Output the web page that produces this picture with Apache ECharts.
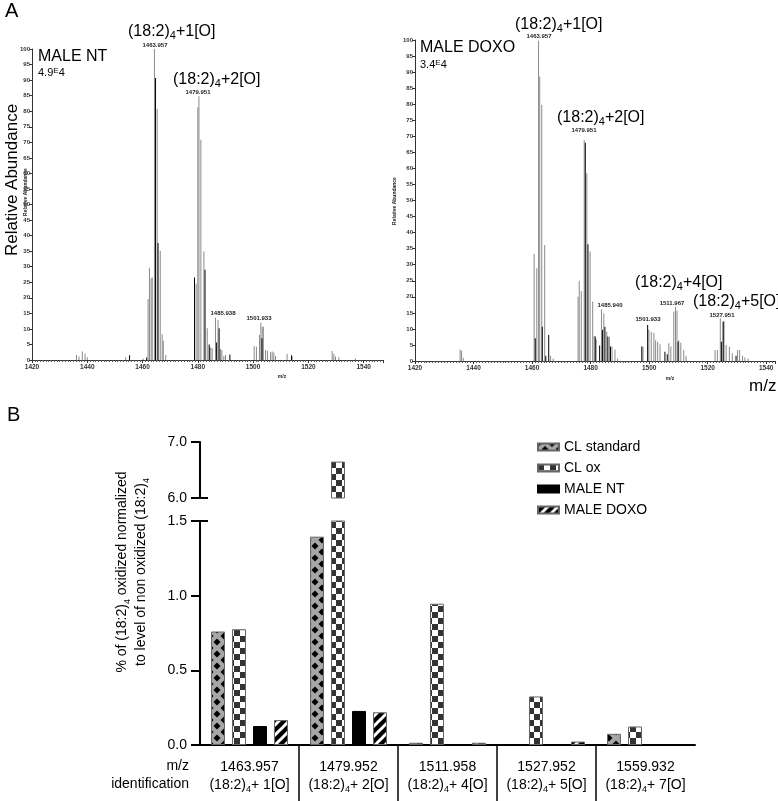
<!DOCTYPE html>
<html><head><meta charset="utf-8">
<script src="https://cdn.jsdelivr.net/npm/echarts@6/dist/echarts.min.js"></script>
<style>html,body{margin:0;padding:0;background:#fff}#c{width:778px;height:801px}</style>
</head><body><div id="c"></div><script>
// ---------- Panel A data: [m/z, relative abundance] ----------
const ntGray = [[1436.3,1.6],[1437.2,1.1],[1438.4,2.7],[1439.4,2.1],[1440.2,0.9],[1454.1,0.9],[1460.4,0.5],
 [1462.2,19.6],[1462.7,29.7],[1463.3,26.3],[1463.7,26.5],[1464.5,100],[1465.5,80.7],[1466.6,35.1],[1467.3,8.3],[1467.7,6.2],[1468.6,1.6],
 [1479.6,24.5],[1480.2,81.3],[1480.6,84.8],[1481.3,70.8],[1482.4,34.9],[1483.6,10.2],[1484.5,4.3],[1484.9,4.0],[1485.4,3.8],
 [1486.6,13.6],[1487.5,12.9],[1488.4,3.5],[1488.9,3.2],[1489.6,1.3],[1490.2,1.6],
 [1500.6,4.5],[1501.4,4.3],[1502.5,8.0],[1503.0,12.0],[1503.5,10.7],[1503.9,10.7],[1504.7,3.2],[1505.4,3.0],[1506.5,2.5],[1507.1,2.7],[1507.7,2.4],[1508.3,1.3],
 [1512.5,1.9],[1514.3,1.1],[1528.8,2.9],[1529.4,1.9],[1530.0,1.1],[1531.2,0.8],[1537.2,0.5]];
const ntBlack = [[1455.1,1.5],[1461.3,0.8],[1464.5,90.7],[1465.4,37.6],[1478.6,26.5],[1482.4,29.0],[1483.9,5.0],
 [1486.6,5.6],[1487.5,10.2],[1491.4,1.8],[1503.0,7.0],[1513.7,1.5]];
const doxoGray = [[1435.6,3.6],[1436.1,3.2],[1436.7,1.0],[1460.9,33.3],[1461.8,28.9],[1462.4,99.8],[1462.8,88.6],[1463.5,79.8],[1464.5,36.1],
 [1466.5,1.6],[1467.4,0.8],[1475.9,20],[1476.3,25],[1477.0,21.8],[1478.0,68.8],[1478.9,58.5],[1480.0,34.1],[1480.9,18.5],[1481.4,7.8],[1482.1,6.7],
 [1483.9,16.1],[1484.7,14.8],[1485.7,9.1],[1486.6,7.5],[1487.5,4.5],[1488.5,3.6],[1489.4,0.8],
 [1498.1,4.5],[1500.1,9.7],[1500.9,9.1],[1501.8,8.8],[1502.4,6.5],[1503.1,6.0],[1503.9,5.2],[1506.9,5.5],[1507.6,4.5],
 [1508.6,15.4],[1509.2,16.9],[1509.7,15.7],[1510.3,6.5],[1511.0,5.7],[1512.0,3.4],[1512.8,1.6],
 [1522.7,3.4],[1523.5,3.4],[1524.5,13.3],[1525.3,12.3],[1526.5,5.0],[1527.6,4.5],[1528.6,2.4],[1530.4,3.4],[1531.1,3.4],[1532.1,1.6],[1532.9,1.1],[1534.0,0.8]];
const doxoBlack = [[1460.9,7.1],[1463.3,10.7],[1464.5,1.6],[1465.5,8.1],[1478.0,68],[1478.9,36.4],[1481.4,7.6],[1482.9,4.8],
 [1483.9,9.7],[1484.7,10.7],[1485.7,7.6],[1486.6,4.5],[1497.3,4.5],[1499.3,11.2],[1505.2,2.9],[1506.0,2.1],[1509.7,6.0],
 [1524.5,6.0],[1525.3,12.3],[1529.5,1.6]];

// ---------- Panel B data ----------
const categories = ['1463.957','1479.952','1511.958','1527.952','1559.932'];
const identifications = ['1[O]','2[O]','4[O]','5[O]','7[O]'];
const seriesNames = ['CL standard','CL ox','MALE NT','MALE DOXO'];
const clStandard = [0.76, 1.395, 0.015, null, 0.075];
const clOx = [0.775, 6.65, 0.946, 0.325, 0.124];
const maleNT = [0.127, 0.228, null, null, null];
const maleDoxo = [0.167, 0.219, 0.015, 0.023, null];
const yTicksLow = [0, 0.5, 1.0, 1.5];
const yTicksHigh = [6.0, 7.0];

const FONT = 'Liberation Sans, Arial, sans-serif';

function pat(w, h, draw) {
  const c = document.createElement('canvas'); c.width = w; c.height = h;
  const g = c.getContext('2d'); draw(g); return { image: c, repeat: 'repeat' };
}
function diamond(g, cx, cy, a, b) {
  g.beginPath(); g.moveTo(cx - a, cy); g.lineTo(cx, cy - b); g.lineTo(cx + a, cy); g.lineTo(cx, cy + b); g.closePath(); g.fill();
}
const patStd = pat(14, 12, g => {
  g.fillStyle = '#a6a6a6'; g.fillRect(0, 0, 14, 12); g.fillStyle = '#000';
  [[0,0],[14,0],[0,12],[14,12],[7,6]].forEach(p => diamond(g, p[0], p[1], 3.5, 3.5));
});
const patOx = pat(12, 12, g => {
  g.fillStyle = '#fff'; g.fillRect(0, 0, 12, 12); g.fillStyle = '#333';
  g.fillRect(0, 0, 6, 6); g.fillRect(6, 6, 6, 6);
});
const patDoxo = pat(10, 10, g => {
  g.fillStyle = '#000'; g.fillRect(0, 0, 10, 10); g.strokeStyle = '#fff'; g.lineWidth = 3;
  [[-5,5,5,-5],[0,10,10,0],[5,15,15,5]].forEach(l => { g.beginPath(); g.moveTo(l[0], l[1]); g.lineTo(l[2], l[3]); g.stroke(); });
});
const fills = [patStd, patOx, '#000', patDoxo];
const seriesData = [clStandard, clOx, maleNT, maleDoxo];

const chart = echarts.init(document.getElementById('c'), null, { renderer: 'canvas' });

function specX(gi, max) {
  return { type: 'value', gridIndex: gi, min: 1420, max: max, interval: 20,
    axisLine: { lineStyle: { color: '#333', width: 1 } },
    axisTick: { show: true, length: 3, lineStyle: { color: '#333' } },
    minorTick: { show: true, splitNumber: 20, length: 2, lineStyle: { color: '#555' } },
    axisLabel: { fontSize: 6.5, fontWeight: 'bold', color: '#333', margin: 4, fontFamily: FONT,
      formatter: v => (v <= 1540 ? String(v) : '') },
    splitLine: { show: false } };
}
function specY(gi) {
  return { type: 'value', gridIndex: gi, min: 0, max: 100, interval: 5,
    axisLine: { show: true, lineStyle: { color: '#333', width: 1 } },
    axisTick: { show: true, length: 3, lineStyle: { color: '#333' } },
    axisLabel: { fontSize: 6, fontWeight: 'bold', color: '#333', margin: 2, fontFamily: FONT },
    splitLine: { show: false } };
}
function stick(name, gi, data, color) {
  return { type: 'bar', name: name, xAxisIndex: gi, yAxisIndex: gi, data: data, barWidth: 1,
    itemStyle: { color: color }, silent: true, animation: false, z: color === '#000' ? 3 : 2 };
}

const xAxes = [specX(0, 1547), specX(1, 1543)];
const yAxes = [specY(0), specY(1)];
xAxes.push({ type: 'category', gridIndex: 2, data: categories,
  axisLine: { lineStyle: { color: '#000', width: 2 } }, axisTick: { show: false },
  axisLabel: { interval: 0, margin: 13, color: '#000', fontFamily: FONT,
    formatter: (v, i) => `{n|${v}}\n{a|(18:2)}{s|4}{a|+ ${identifications[i]}}`,
    rich: { n: { fontSize: 14, lineHeight: 18, fontFamily: FONT, color: '#000' },
            a: { fontSize: 14, lineHeight: 18, fontFamily: FONT, color: '#000' },
            s: { fontSize: 9, verticalAlign: 'bottom', fontFamily: FONT, color: '#000' } } } });
yAxes.push({ type: 'value', gridIndex: 2, min: 0, max: 1.5, interval: 0.5,
  axisLine: { show: true, lineStyle: { color: '#000', width: 2 } },
  axisTick: { show: true, length: 9, lineStyle: { color: '#000', width: 2 } },
  axisLabel: { fontSize: 14, color: '#000', margin: 13, fontFamily: FONT, formatter: v => v.toFixed(1),
    customValues: yTicksLow },
  splitLine: { show: false } });
xAxes.push({ type: 'category', gridIndex: 3, data: categories, show: false });
yAxes.push({ type: 'value', gridIndex: 3, min: 6, max: 7, interval: 1,
  axisLine: { show: true, lineStyle: { color: '#000', width: 2 } },
  axisTick: { show: true, length: 9, lineStyle: { color: '#000', width: 2 } },
  axisLabel: { fontSize: 14, color: '#000', margin: 13, fontFamily: FONT, formatter: v => v.toFixed(1),
    customValues: yTicksHigh },
  splitLine: { show: false } });
xAxes.push({ type: 'category', gridIndex: 4, data: categories, axisLine: { show: false }, axisTick: { show: false },
  axisLabel: { show: false },
  splitLine: { show: true, showMinLine: false, showMaxLine: false, lineStyle: { color: '#000', width: 1.5 } } });
yAxes.push({ type: 'value', gridIndex: 4, show: false, min: 0, max: 1 });
yAxes.push({ type: 'value', gridIndex: 3, min: 6, max: 7, position: 'left',
  axisLine: { show: false }, axisLabel: { show: false }, splitLine: { show: false },
  axisTick: { show: true, inside: true, length: 8, customValues: [6], lineStyle: { color: '#000', width: 2 } } });
yAxes.push({ type: 'value', gridIndex: 2, min: 0, max: 1.5, position: 'left',
  axisLine: { show: false }, axisLabel: { show: false }, splitLine: { show: false },
  axisTick: { show: true, inside: true, length: 8, customValues: [1.5], lineStyle: { color: '#000', width: 2 } } });

const series = [
  stick('ntGray', 0, ntGray, '#8a8a8a'), stick('ntBlack', 0, ntBlack, '#000'),
  stick('doxoGray', 1, doxoGray, '#8a8a8a'), stick('doxoBlack', 1, doxoBlack, '#000')
];
seriesNames.forEach((nm, k) => {
  const style = { color: fills[k], borderColor: k === 2 ? '#000' : '#666', borderWidth: 1 };
  series.push({ type: 'bar', name: nm, xAxisIndex: 2, yAxisIndex: 2, data: seriesData[k],
    barWidth: 14, barGap: '50%', itemStyle: style, clip: true, animation: false });
  series.push({ type: 'bar', name: nm, xAxisIndex: 3, yAxisIndex: 3,
    data: seriesData[k].map(v => (v !== null && v > 6 ? v : null)),
    barWidth: 14, barGap: '50%', itemStyle: style, clip: true, animation: false });
});

const sub = { a: { fontSize: 16, lineHeight: 18, fontFamily: FONT, fill: '#000' },
              s: { fontSize: 11, verticalAlign: 'bottom', fontFamily: FONT, fill: '#000' } };
function ann(x, y, n) {
  return { type: 'text', x: x, y: y, style: { text: `{a|(18:2)}{s|4}{a|+${n}[O]}`, rich: sub, verticalAlign: 'middle', font: `16px ${FONT}` } };
}
function tiny(cx, y, t, fs) {
  return { type: 'text', x: cx, y: y, style: { text: t, font: `bold ${fs || 6}px ${FONT}`, fill: '#222', align: 'center', verticalAlign: 'middle' } };
}
function txt(x, y, t, fs, align, extra) {
  return Object.assign({ type: 'text', x: x, y: y, style: { text: t, font: `${fs}px ${FONT}`, fill: '#000', align: align || 'left', verticalAlign: 'middle' } }, extra || {});
}
function expo(x, y, a, b) {
  return { type: 'text', x: x, y: y, style: { text: `{m|${a}}{e|E}{m|${b}}`, verticalAlign: 'middle',
    rich: { m: { fontSize: 11, fontFamily: FONT, fill: '#000', lineHeight: 12 }, e: { fontSize: 8, fontFamily: FONT, fill: '#000', verticalAlign: 'top' } } } };
}

const graphic = [
  txt(5, 11, 'A', 20), txt(7, 415, 'B', 20),
  txt(38, 57, 'MALE NT', 16), expo(38, 73, '4.9', '4'),
  ann(128, 32, 1), tiny(155, 45, '1463.957'), ann(173, 80, 2), tiny(198, 92, '1479.951'),
  tiny(223, 313, '1485.938'), tiny(259, 318, '1501.933'), tiny(282, 377, 'm/z', 5),
  txt(12, 180, 'Relative Abundance', 17, 'center', { rotation: Math.PI / 2 }),
  Object.assign(tiny(26, 192, 'Relative Abundance', 5), { rotation: Math.PI / 2 }),
  txt(420, 48, 'MALE DOXO', 16), expo(420, 65, '3.4', '4'),
  ann(515, 25, 1), tiny(539, 36, '1463.957'), ann(557, 118, 2), tiny(584, 130, '1479.951'),
  ann(635, 283, 4), ann(693, 302, 5),
  tiny(610, 305, '1485.940'), tiny(648, 319, '1501.933'), tiny(672, 303, '1511.967'), tiny(722, 315, '1527.951'),
  tiny(670, 379, 'm/z', 5), txt(749, 386, 'm/z', 17),
  Object.assign(tiny(395, 201, 'Relative Abundance', 5), { rotation: Math.PI / 2 }),
  { type: 'text', x: 132, y: 572, rotation: Math.PI / 2,
    style: { text: '{t|% of (18:2)}{s|4}{t| oxidized normalized}\n{t|to level of non oxidized (18:2)}{s|4}',
      align: 'center', verticalAlign: 'middle',
      rich: { t: { fontSize: 14, lineHeight: 19, fontFamily: FONT, fill: '#000' }, s: { fontSize: 9, verticalAlign: 'bottom', fontFamily: FONT, fill: '#000' } } } },
  txt(189, 766, 'm/z', 14, 'right'), txt(189, 784, 'identification', 14, 'right')
];

chart.setOption({
  animation: false,
  backgroundColor: '#fff',
  grid: [
    { left: 32, top: 49, width: 351, height: 311 },
    { left: 415, top: 40, width: 362, height: 321 },
    { left: 200, top: 521, width: 495, height: 224 },
    { left: 200, top: 442, width: 495, height: 56 },
    { left: 200, top: 745, width: 495, height: 56 }
  ],
  xAxis: xAxes, yAxis: yAxes, series: series, graphic: graphic,
  legend: { data: seriesNames, orient: 'vertical', left: 537, top: 440, padding: 0, itemWidth: 21, itemHeight: 7, itemGap: 7,
    icon: 'rect', selectedMode: false,
    textStyle: { fontSize: 14, color: '#000', fontFamily: FONT } }
});
</script></body></html>
